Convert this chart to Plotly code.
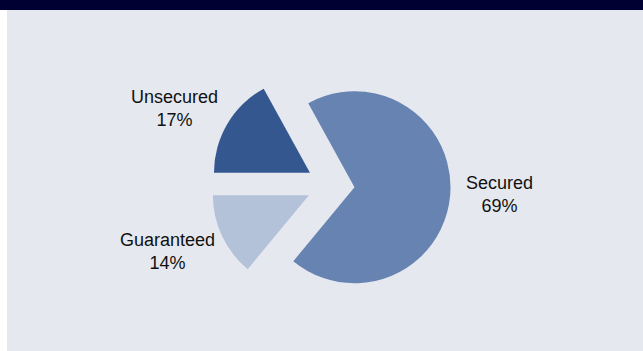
import plotly.graph_objects as go

# Loan book split by security type
categories = ["Unsecured", "Secured", "Guaranteed"]
shares = [17, 69, 14]
colors = ["#34578F", "#6683B2", "#B4C2D9"]

W, H = 643, 351

fig = go.Figure()

fig.add_trace(go.Pie(
    labels=categories,
    values=shares,
    sort=False,
    direction="clockwise",
    rotation=270,
    pull=[0.25, 0.25, 0.25],
    marker=dict(colors=colors, line=dict(width=0)),
    textinfo="none",
    hoverinfo="label+percent",
    showlegend=False,
    domain=dict(x=[(330.6 - 120) / W, (330.6 + 120) / W],
                y=[(166 - 120) / H, (166 + 120) / H]),
))

# label anchor points in pixels (x, y from top)
label_pos = {"Unsecured": (174, 108), "Secured": (499, 194), "Guaranteed": (167, 251)}

total = sum(shares)
for name, val in zip(categories, shares):
    px, py = label_pos[name]
    fig.add_annotation(
        x=px / W, y=1 - py / H, xref="paper", yref="paper",
        text=f"{name}<br>{round(100 * val / total)}%",
        showarrow=False, align="center",
        xanchor="center", yanchor="middle",
        font=dict(family="Liberation Sans, Arial, sans-serif", size=18, color="#111111"),
    )

fig.update_layout(
    width=W, height=H,
    margin=dict(l=0, r=0, t=0, b=0),
    paper_bgcolor="#FFFFFF",
    plot_bgcolor="#FFFFFF",
    shapes=[
        dict(type="rect", xref="paper", yref="paper", x0=7 / W, x1=1, y0=0, y1=1,
             fillcolor="#E5E8EE", line=dict(width=0), layer="below"),
        dict(type="rect", xref="paper", yref="paper", x0=0, x1=1, y0=1 - 10 / H, y1=1,
             fillcolor="#000033", line=dict(width=0), layer="below"),
    ],
)

fig.write_html("out.html")
